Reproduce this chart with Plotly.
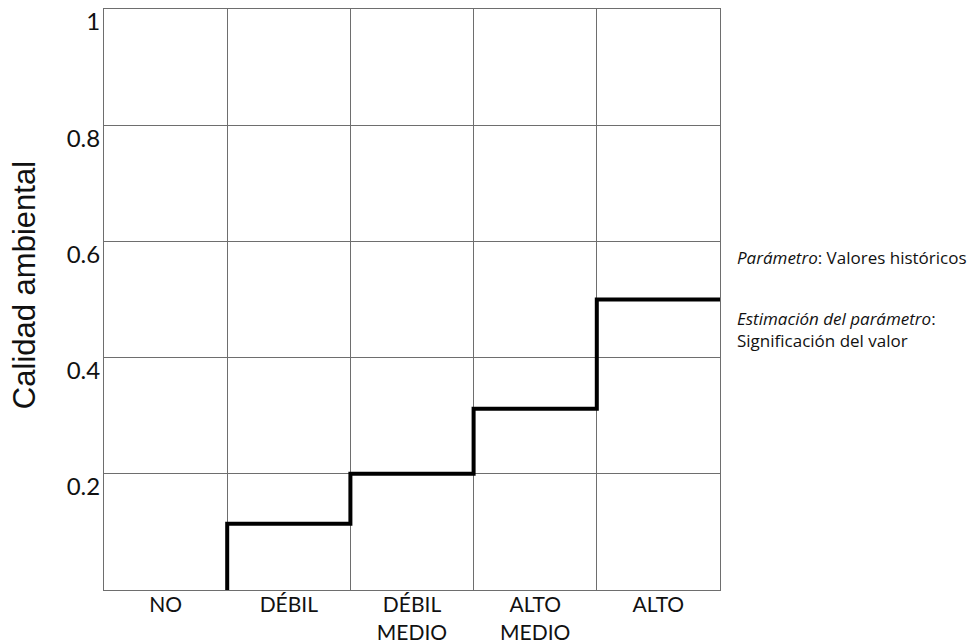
import plotly.graph_objects as go

categories = ["NO", "DÉBIL", "DÉBIL<br>MEDIO", "ALTO<br>MEDIO", "ALTO"]
levels = [0.0, 0.114, 0.2, 0.312, 0.5]
y_ticks = [0.2, 0.4, 0.6, 0.8, 1.0]
y_tick_labels = ["0.2", "0.4", "0.6", "0.8", "1"]

FONT = "Lato"
n = len(categories)
edges = [i + 1 for i in range(n)]

fig = go.Figure()
fig.add_trace(go.Scatter(
    x=edges, y=levels, mode="lines", line_shape="vh",
    line=dict(color="black", width=4), showlegend=False, hoverinfo="skip",
))

fig.update_layout(
    width=976, height=644,
    margin=dict(l=104, r=256, t=9, b=54, autoexpand=False),
    paper_bgcolor="white", plot_bgcolor="white",
    font=dict(family=FONT, color="#111111"),
    xaxis=dict(
        range=[0, n], tickvals=[i + 0.5 for i in range(n)], ticktext=categories,
        showgrid=False, zeroline=False, showline=True, mirror=True, automargin=False,
        linecolor="#6e6e6e", linewidth=1, ticks="", ticklabelstandoff=-4,
        tickfont=dict(size=21, family=FONT),
        minor=dict(tick0=0, dtick=1, showgrid=True, gridcolor="#6e6e6e", gridwidth=1),
        fixedrange=True,
    ),
    yaxis=dict(
        range=[0, 1], tickvals=y_ticks, ticktext=y_tick_labels,
        showgrid=True, gridcolor="#6e6e6e", gridwidth=1, zeroline=False, automargin=False,
        showline=True, mirror=True, linecolor="#6e6e6e", linewidth=1,
        ticks="", ticklabelshift=13, ticklabelstandoff=-2, ticklabeloverflow="allow",
        tickfont=dict(size=24, family=FONT), fixedrange=True,
    ),
)

fig.add_annotation(text="Calidad ambiental", textangle=-90, xref="paper", yref="paper",
                   x=-0.128, y=0.525, xanchor="center", yanchor="middle", showarrow=False,
                   font=dict(size=31, family="Liberation Sans", color="#111111"))

side_font = dict(size=17, family="Open Sans", color="#111111")
fig.add_annotation(text="<i>Parámetro</i>: Valores históricos", xref="paper", yref="paper",
                   x=1.024, y=0.573, xanchor="left", showarrow=False, font=side_font)
fig.add_annotation(text="<i>Estimación del parámetro</i>:", xref="paper", yref="paper",
                   x=1.024, y=0.468, xanchor="left", showarrow=False, font=side_font)
fig.add_annotation(text="Significación del valor", xref="paper", yref="paper",
                   x=1.024, y=0.429, xanchor="left", showarrow=False, font=side_font)

fig.write_html("out.html", config={"displayModeBar": False},
               post_script="document.body.style.margin='0px';")
